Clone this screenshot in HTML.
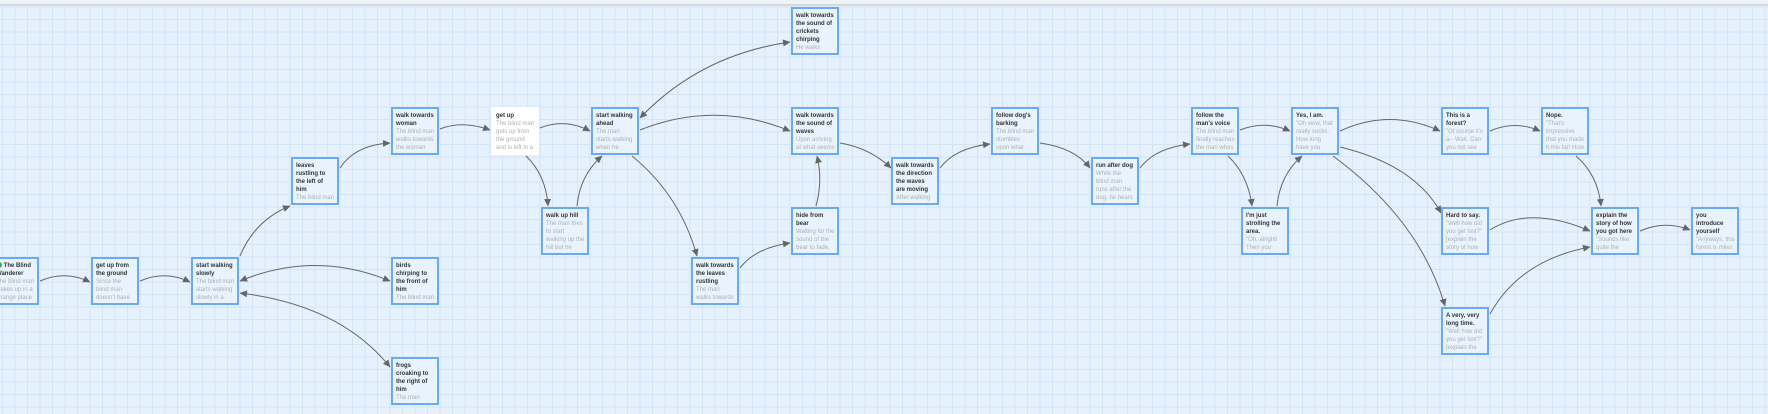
<!DOCTYPE html>
<html><head><meta charset="utf-8"><style>
html,body{margin:0;padding:0}
body{width:1768px;height:414px;overflow:hidden;position:relative;background:#eef3f8;font-family:"Liberation Sans",sans-serif}
#topline{position:absolute;left:0;top:4px;width:1768px;height:2px;background:#d6d9dc}
#grid{position:absolute;left:0;top:6px;width:1768px;height:408px;background-color:#e6f1fe;
background-image:linear-gradient(to right,#d3e4f7 1px,transparent 1px),linear-gradient(to bottom,#d3e4f7 1px,transparent 1px);
background-size:12.5px 12.5px;background-position:2px 0.5px}
.n{position:absolute;width:44px;height:44px;border:2px solid #6aaaf2;background:#e9f3fe;overflow:hidden;font-size:6px;line-height:8px;padding:0;box-sizing:content-box}
.n .in{padding:3px 2px 0 3px}
.n b{display:block;color:#333;font-weight:bold}
.n span{color:#b0b0b0}
.w{background:#fff;border-color:#fff}
svg{position:absolute;left:0;top:0}
</style></head><body>
<div id="topline"></div>
<div id="grid"></div>
<svg width="1768" height="414" viewBox="0 0 1768 414">
<defs><marker id="a" markerWidth="8" markerHeight="8" refX="7" refY="4" orient="auto" markerUnits="userSpaceOnUse"><path d="M0,0.5 L7.5,4 L0,7.5 z" fill="#666"/></marker>
<marker id="s" markerWidth="8" markerHeight="8" refX="0.5" refY="4" orient="auto" markerUnits="userSpaceOnUse"><path d="M7.5,0.5 L0,4 L7.5,7.5 z" fill="#666"/></marker></defs>
<g fill="none" stroke="#666" stroke-width="1" marker-end="url(#a)">
<path d="M40,281 Q65,270 90,282"/>
<path d="M140,281 Q165,270 190,282"/>
<path d="M240,256 Q255,220 290,206"/>
<path d="M340,168 Q355,145 390,143"/>
<path d="M440,129 Q462,120 490,130"/>
<path d="M526,156 Q546,175 548,206"/>
<path d="M577,206 Q580,175 602,156"/>
<path d="M540,128 Q565,118 590,131"/>
<path d="M640,130 Q715,100 790,131"/>
<path d="M632,156 Q680,195 697,256"/>
<path d="M740,268 Q755,248 790,243"/>
<path d="M816,206 Q823,180 817,156"/>
<path d="M840,143 Q870,148 891,168"/>
<path d="M940,168 Q955,148 990,144"/>
<path d="M1040,143 Q1075,148 1090,168"/>
<path d="M1140,168 Q1155,148 1190,144"/>
<path d="M1240,130 Q1265,120 1290,131"/>
<path d="M1228,156 Q1248,175 1252,206"/>
<path d="M1277,206 Q1280,175 1302,156"/>
<path d="M1340,131 Q1390,108 1440,131"/>
<path d="M1490,131 Q1515,120 1540,131"/>
<path d="M1340,147 Q1415,165 1441,213"/>
<path d="M1333,156 Q1420,220 1445,306"/>
<path d="M1576,156 Q1598,175 1601,206"/>
<path d="M1490,230 Q1530,205 1590,231"/>
<path d="M1490,314 Q1520,260 1590,247"/>
<path d="M1640,231 Q1665,220 1690,230"/>
<path d="M240,281 Q315,250 390,281" marker-start="url(#s)"/>
<path d="M240,293 Q340,305 390,367" marker-start="url(#s)"/>
<path d="M640,118 Q700,55 790,42" marker-start="url(#s)"/>
</g>
</svg>
<div class="n" style="left:-9px;top:257px"><div class="in"><b><span style="display:inline-block;width:6px;height:6px;border-radius:50%;background:#3ab54a;vertical-align:middle"></span> The Blind Wanderer</b><span>The blind man wakes up in a strange place and he wants</span></div></div>
<div class="n" style="left:91px;top:257px"><div class="in"><b>get up from the ground</b><span>Since the blind man doesn't have his stick, he has to</span></div></div>
<div class="n" style="left:191px;top:257px"><div class="in"><b>start walking slowly</b><span>The blind man starts walking slowly in a seemingly</span></div></div>
<div class="n" style="left:291px;top:157px"><div class="in"><b>leaves rustling to the left of him</b><span>The blind man walks towards the sound of</span></div></div>
<div class="n" style="left:391px;top:107px"><div class="in"><b>walk towards woman</b><span>The blind man walks towards the woman but suddenly</span></div></div>
<div class="n w" style="left:491px;top:107px"><div class="in"><b>get up</b><span>The blind man gets up from the ground and is left in a different</span></div></div>
<div class="n" style="left:541px;top:207px"><div class="in"><b>walk up hill</b><span>The man tries to start walking up the hill but he can't climb it</span></div></div>
<div class="n" style="left:391px;top:257px"><div class="in"><b>birds chirping to the front of him</b><span>The blind man walks towards the sound of</span></div></div>
<div class="n" style="left:391px;top:357px"><div class="in"><b>frogs croaking to the right of him</b><span>The man walks towards</span></div></div>
<div class="n" style="left:591px;top:107px"><div class="in"><b>start walking ahead</b><span>The man starts walking when he hears a lingering</span></div></div>
<div class="n" style="left:791px;top:7px"><div class="in"><b>walk towards the sound of crickets chirping</b><span>He walks towards the</span></div></div>
<div class="n" style="left:791px;top:107px"><div class="in"><b>walk towards the sound of waves</b><span>Upon arriving at what seems to be a lake</span></div></div>
<div class="n" style="left:691px;top:257px"><div class="in"><b>walk towards the leaves rustling</b><span>The man walks towards the sounds of</span></div></div>
<div class="n" style="left:791px;top:207px"><div class="in"><b>hide from bear</b><span>Waiting for the sound of the bear to fade, the man</span></div></div>
<div class="n" style="left:891px;top:157px"><div class="in"><b>walk towards the direction the waves are moving</b><span>After walking towards the</span></div></div>
<div class="n" style="left:991px;top:107px"><div class="in"><b>follow dog's barking</b><span>The blind man stumbles upon what seems to be a</span></div></div>
<div class="n" style="left:1091px;top:157px"><div class="in"><b>run after dog</b><span>While the blind man runs after the dog, he hears the sound of a</span></div></div>
<div class="n" style="left:1191px;top:107px"><div class="in"><b>follow the man's voice</b><span>The blind man finally reaches the man whos voice he</span></div></div>
<div class="n" style="left:1291px;top:107px"><div class="in"><b>Yes, I am.</b><span>"Oh wow, that really sucks. How long have you been in the forest</span></div></div>
<div class="n" style="left:1241px;top:207px"><div class="in"><b>I'm just strolling the area.</b><span>"Oh, alright! Then you have a good day!"</span></div></div>
<div class="n" style="left:1441px;top:107px"><div class="in"><b>This is a forest?</b><span>"Of course it's a-- Wait. Can you not see the forest?"</span></div></div>
<div class="n" style="left:1541px;top:107px"><div class="in"><b>Nope.</b><span>"That's impressive that you made it this far! How did you get</span></div></div>
<div class="n" style="left:1441px;top:207px"><div class="in"><b>Hard to say.</b><span>"Well how did you get lost?" [explain the story of how you got here]</span></div></div>
<div class="n" style="left:1441px;top:307px"><div class="in"><b>A very, very long time.</b><span>"Well how did you get lost?" [explain the story of how</span></div></div>
<div class="n" style="left:1591px;top:207px"><div class="in"><b>explain the story of how you got here</b><span>"Sounds like quite the adventure you</span></div></div>
<div class="n" style="left:1691px;top:207px"><div class="in"><b>you introduce yourself</b><span>"Anyways, this forest is miles long and where you</span></div></div>
</body></html>
